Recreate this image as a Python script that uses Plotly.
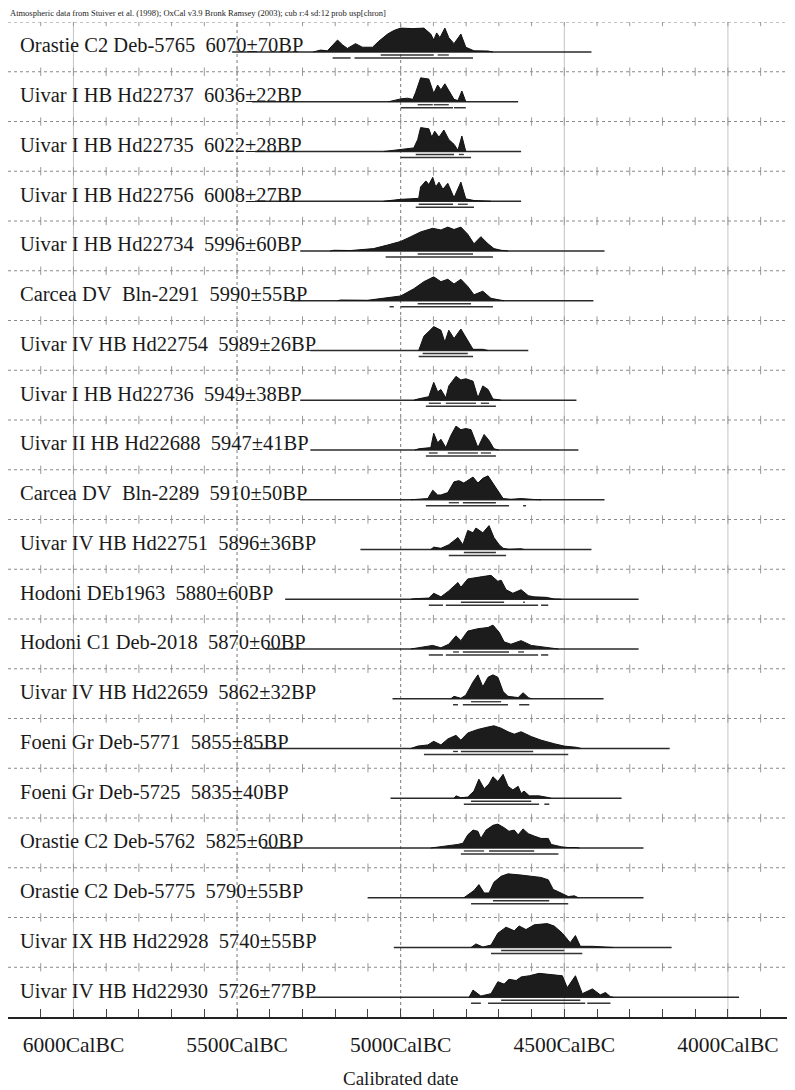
import plotly.graph_objects as go

# ---------------- data ----------------
labels = [
    "Orastie C2 Deb-5765  6070±70BP",
    "Uivar I HB Hd22737  6036±22BP",
    "Uivar I HB Hd22735  6022±28BP",
    "Uivar I HB Hd22756  6008±27BP",
    "Uivar I HB Hd22734  5996±60BP",
    "Carcea DV  Bln-2291  5990±55BP",
    "Uivar IV HB Hd22754  5989±26BP",
    "Uivar I HB Hd22736  5949±38BP",
    "Uivar II HB Hd22688  5947±41BP",
    "Carcea DV  Bln-2289  5910±50BP",
    "Uivar IV HB Hd22751  5896±36BP",
    "Hodoni DEb1963  5880±60BP",
    "Hodoni C1 Deb-2018  5870±60BP",
    "Uivar IV HB Hd22659  5862±32BP",
    "Foeni Gr Deb-5771  5855±85BP",
    "Foeni Gr Deb-5725  5835±40BP",
    "Orastie C2 Deb-5762  5825±60BP",
    "Orastie C2 Deb-5775  5790±55BP",
    "Uivar IX HB Hd22928  5740±55BP",
    "Uivar IV HB Hd22930  5726±77BP",
]

# calibrated probability distributions (year BC, relative probability)
dist_years = [
    [5267, 5245, 5224, 5205, 5193, 5178, 5163, 5138, 5117, 5086, 5067, 5040, 5021, 5000, 4963, 4929, 4908, 4899, 4890, 4880, 4865, 4853, 4837, 4816, 4801, 4776, 4733, 4718],
    [5037, 5000, 4979, 4963, 4954, 4939, 4914, 4902, 4899, 4887, 4877, 4865, 4853, 4837, 4825, 4813, 4801],
    [5052, 5000, 4960, 4948, 4939, 4914, 4905, 4896, 4883, 4868, 4853, 4837, 4825, 4813, 4801],
    [5052, 5000, 4945, 4939, 4923, 4914, 4902, 4893, 4883, 4871, 4856, 4837, 4816, 4801, 4776, 4733, 4724],
    [5215, 5205, 5153, 5083, 5040, 5000, 4969, 4939, 4902, 4877, 4856, 4837, 4816, 4795, 4776, 4755, 4733, 4715, 4693, 4672],
    [5193, 5184, 5101, 5061, 5031, 5000, 4960, 4929, 4899, 4877, 4856, 4837, 4816, 4795, 4776, 4749, 4724, 4693, 4684],
    [4945, 4929, 4914, 4899, 4877, 4865, 4853, 4837, 4816, 4795, 4779, 4749, 4733],
    [4960, 4948, 4914, 4899, 4887, 4877, 4862, 4853, 4831, 4816, 4801, 4779, 4764, 4749, 4733, 4718, 4699, 4693],
    [4957, 4945, 4908, 4899, 4887, 4877, 4862, 4847, 4831, 4816, 4801, 4785, 4764, 4745, 4730, 4715, 4700],
    [4969, 4954, 4917, 4902, 4887, 4877, 4856, 4837, 4822, 4807, 4779, 4764, 4749, 4733, 4718, 4703, 4687, 4663, 4632, 4592, 4571],
    [4908, 4899, 4877, 4853, 4825, 4810, 4795, 4779, 4770, 4749, 4730, 4715, 4699, 4687, 4669, 4632, 4623],
    [4969, 4960, 4914, 4899, 4877, 4853, 4825, 4816, 4795, 4776, 4749, 4724, 4703, 4693, 4678, 4657, 4632, 4610, 4592, 4555, 4531, 4509],
    [4969, 4902, 4877, 4853, 4831, 4816, 4795, 4764, 4733, 4718, 4699, 4684, 4663, 4632, 4601, 4571, 4546, 4518],
    [4847, 4837, 4816, 4801, 4779, 4764, 4749, 4733, 4718, 4703, 4687, 4672, 4641, 4626, 4610, 4601],
    [4969, 4948, 4917, 4899, 4877, 4856, 4831, 4816, 4795, 4764, 4733, 4715, 4693, 4672, 4653, 4632, 4601, 4571, 4531, 4500, 4463, 4448],
    [4837, 4831, 4816, 4795, 4776, 4761, 4745, 4730, 4718, 4703, 4687, 4672, 4657, 4641, 4632, 4623, 4607, 4577, 4549, 4540],
    [4908, 4877, 4837, 4825, 4810, 4795, 4779, 4764, 4755, 4739, 4718, 4703, 4684, 4669, 4653, 4641, 4626, 4610, 4592, 4571, 4549, 4540, 4509, 4488, 4463, 4454],
    [4807, 4776, 4761, 4745, 4730, 4715, 4693, 4672, 4632, 4592, 4571, 4549, 4534, 4518, 4503, 4488, 4469, 4457],
    [4785, 4770, 4749, 4724, 4703, 4678, 4653, 4638, 4617, 4592, 4552, 4531, 4506, 4482, 4466, 4451, 4414, 4359, 4350],
    [4791, 4779, 4755, 4724, 4703, 4684, 4669, 4647, 4632, 4607, 4577, 4537, 4506, 4491, 4466, 4445, 4414, 4390, 4374, 4359, 4350],
]
dist_prob = [
    [0.0, 0.08, 0.05, 0.3, 0.5, 0.3, 0.15, 0.35, 0.2, 0.2, 0.45, 0.75, 0.9, 1.0, 0.98, 1.0, 0.75, 0.5, 0.8, 0.6, 1.0, 0.6, 0.35, 0.75, 0.2, 0.05, 0.04, 0.0],
    [0.0, 0.12, 0.15, 0.1, 0.4, 1.0, 0.95, 0.5, 0.35, 0.7, 0.5, 0.75, 0.45, 0.1, 0.05, 0.45, 0.0],
    [0.0, 0.1, 0.15, 0.5, 1.0, 0.95, 0.6, 0.85, 0.6, 0.9, 0.5, 0.3, 0.05, 0.65, 0.0],
    [0.0, 0.08, 0.12, 0.6, 0.85, 0.7, 1.0, 0.6, 0.8, 0.5, 0.75, 0.15, 0.8, 0.1, 0.03, 0.02, 0.0],
    [0.0, 0.03, 0.02, 0.1, 0.25, 0.4, 0.6, 0.8, 0.95, 0.88, 1.0, 0.9, 1.0, 0.7, 0.3, 0.6, 0.3, 0.1, 0.03, 0.0],
    [0.0, 0.03, 0.02, 0.08, 0.15, 0.2, 0.5, 0.8, 1.0, 0.8, 0.9, 0.7, 0.9, 0.6, 0.25, 0.4, 0.1, 0.02, 0.0],
    [0.0, 0.6, 0.8, 1.0, 0.85, 0.35, 0.85, 0.5, 0.9, 0.4, 0.05, 0.05, 0.0],
    [0.0, 0.05, 0.15, 0.75, 0.35, 0.45, 0.1, 0.6, 1.0, 0.85, 0.9, 0.8, 0.1, 0.6, 0.45, 0.05, 0.02, 0.0],
    [0.0, 0.05, 0.1, 0.7, 0.3, 0.45, 0.1, 0.6, 1.0, 0.85, 0.9, 0.85, 0.1, 0.65, 0.4, 0.05, 0.0],
    [0.0, 0.02, 0.05, 0.4, 0.2, 0.2, 0.3, 0.75, 0.8, 0.7, 0.95, 0.7, 0.9, 1.0, 0.7, 0.35, 0.05, 0.02, 0.05, 0.01, 0.0],
    [0.0, 0.1, 0.05, 0.2, 0.5, 0.2, 0.8, 0.7, 0.9, 0.7, 1.0, 0.5, 0.2, 0.05, 0.01, 0.03, 0.0],
    [0.0, 0.02, 0.05, 0.25, 0.1, 0.35, 0.7, 0.5, 0.85, 0.9, 0.95, 1.0, 0.75, 0.8, 0.4, 0.25, 0.4, 0.15, 0.1, 0.08, 0.01, 0.0],
    [0.0, 0.15, 0.05, 0.2, 0.55, 0.35, 0.75, 0.85, 0.9, 1.0, 0.7, 0.3, 0.2, 0.35, 0.15, 0.1, 0.05, 0.0],
    [0.0, 0.1, 0.02, 0.15, 0.7, 1.0, 0.5, 0.9, 1.0, 0.9, 0.3, 0.1, 0.05, 0.25, 0.05, 0.0],
    [0.0, 0.1, 0.15, 0.3, 0.15, 0.4, 0.55, 0.35, 0.65, 0.8, 0.9, 0.95, 0.85, 0.7, 0.6, 0.7, 0.5, 0.35, 0.2, 0.1, 0.05, 0.0],
    [0.0, 0.1, 0.02, 0.05, 0.3, 0.8, 0.4, 0.6, 0.9, 0.7, 1.0, 0.5, 0.35, 0.5, 0.2, 0.3, 0.1, 0.1, 0.03, 0.0],
    [0.0, 0.05, 0.1, 0.15, 0.2, 0.55, 0.75, 0.7, 0.4, 0.75, 0.95, 1.0, 0.85, 0.7, 0.75, 0.55, 0.8, 0.6, 0.5, 0.4, 0.4, 0.15, 0.05, 0.02, 0.02, 0.0],
    [0.0, 0.3, 0.55, 0.2, 0.2, 0.65, 0.9, 1.0, 0.95, 0.9, 0.85, 0.75, 0.35, 0.25, 0.15, 0.05, 0.08, 0.0],
    [0.0, 0.15, 0.02, 0.1, 0.6, 0.85, 0.7, 0.9, 0.75, 0.95, 1.0, 0.9, 0.6, 0.2, 0.5, 0.05, 0.05, 0.01, 0.0],
    [0.0, 0.3, 0.05, 0.15, 0.65, 0.55, 0.75, 0.7, 0.85, 0.9, 1.0, 0.95, 0.9, 0.4, 0.9, 0.15, 0.35, 0.1, 0.2, 0.02, 0.0],
]

# 68.2% (1 sigma) and 95.4% (2 sigma) ranges, [from, to] in years BC
sigma1 = [
    [[5061, 4899], [4887, 4853]],
    [[4948, 4902], [4899, 4853]],
    [[4954, 4837], [4822, 4807]],
    [[4945, 4840], [4825, 4795]],
    [[4948, 4779]],
    [[4948, 4785]],
    [[4933, 4795]],
    [[4914, 4877], [4862, 4770], [4755, 4730]],
    [[4914, 4887], [4856, 4764], [4755, 4724]],
    [[4853, 4822], [4810, 4709]],
    [[4807, 4709]],
    [[4816, 4684], [4626, 4620]],
    [[4840, 4822], [4810, 4669], [4641, 4623]],
    [[4785, 4693]],
    [[4840, 4825], [4816, 4595]],
    [[4785, 4601]],
    [[4807, 4745], [4730, 4592]],
    [[4718, 4546]],
    [[4693, 4500]],
    [[4693, 4451]],
]
sigma2 = [
    [[5208, 5153], [5141, 4779]],
    [[5000, 4840], [4837, 4801]],
    [[5000, 4785]],
    [[4954, 4776]],
    [[5046, 4718]],
    [[5034, 5021], [5000, 4718]],
    [[4945, 4779]],
    [[4923, 4709]],
    [[4923, 4709]],
    [[4923, 4669], [4626, 4617]],
    [[4853, 4678]],
    [[4914, 4871], [4862, 4580], [4571, 4549]],
    [[4914, 4871], [4862, 4580], [4571, 4549]],
    [[4840, 4825], [4810, 4672], [4638, 4607]],
    [[4929, 4488]],
    [[4807, 4577], [4561, 4546]],
    [[4816, 4518]],
    [[4785, 4488]],
    [[4724, 4445]],
    [[4785, 4755], [4733, 4436], [4430, 4359]],
]

# extent of the horizontal base line of each row (years BC)
base_from = [5515, 5454, 5445, 5445, 5307, 5337, 5276, 5307, 5276, 5307, 5123, 5353, 5414, 5025, 5460, 5031, 5423, 5101, 5021, 5276]
base_to = [4417, 4641, 4632, 4632, 4377, 4411, 4610, 4463, 4457, 4377, 4417, 4273, 4273, 4380, 4178, 4325, 4258, 4258, 4172, 3966]

tick_years = [6000, 5500, 5000, 4500, 4000]
tick_text = ["6000CalBC", "5500CalBC", "5000CalBC", "4500CalBC", "4000CalBC"]
caption = ("Atmospheric data from Stuiver et al. (1998); OxCal v3.9 Bronk Ramsey (2003); "
           "cub r:4 sd:12 prob usp[chron]")
x_title = "Calibrated date"

# ---------------- figure ----------------
SERIF = "Liberation Serif, Times New Roman, serif"
X_LEFT, X_RIGHT = 6200, 3795
N = len(labels)
BASE_OFF = 0.603      # baseline position inside a row (row units)
PEAK = 0.48           # height of the highest probability
S1_OFF = 0.06
S2_OFF = 0.12

fig = go.Figure()

# row separators with small 100-year ticks
sep_x, sep_y = [], []
for i in range(N):
    for yr in range(6100, 3700, -100):
        sep_x.append(yr)
        sep_y.append(i)
fig.add_trace(go.Scatter(x=sep_x, y=sep_y, mode="markers", hoverinfo="skip",
                         marker=dict(symbol="line-ns", size=6,
                                     line=dict(width=1, color="#9a9a9a")),
                         showlegend=False))

shapes = []
for i in range(N):
    shapes.append(dict(type="line", xref="paper", yref="y", x0=0, x1=1, y0=i, y1=i,
                       line=dict(color="#8a8a8a", width=1, dash="dot")))
for yr in tick_years:
    dotted = yr in (5500, 5000)
    shapes.append(dict(type="line", xref="x", yref="paper", x0=yr, x1=yr, y0=0, y1=1,
                       line=dict(color="#7a7a7a" if dotted else "#c4c4c4", width=1,
                                 dash="dot" if dotted else "solid"),
                       layer="below"))

# base lines
bx, by = [], []
for i in range(N):
    b = i + BASE_OFF
    bx += [base_from[i], base_to[i], None]
    by += [b, b, None]
fig.add_trace(go.Scatter(x=bx, y=by, mode="lines", hoverinfo="skip",
                         line=dict(color="#2a2a2a", width=1.6), showlegend=False))

# distributions
for i in range(N):
    b = i + BASE_OFF
    xs = [dist_years[i][0]] + list(dist_years[i]) + [dist_years[i][-1]]
    ys = [b] + [b - p * PEAK for p in dist_prob[i]] + [b]
    fig.add_trace(go.Scatter(x=xs, y=ys, mode="lines", fill="toself",
                             fillcolor="#1c1c1c", line=dict(color="#111111", width=1),
                             hoverinfo="skip", showlegend=False))

# range bars
for ranges, off, w in ((sigma1, S1_OFF, 1.3), (sigma2, S2_OFF, 1.5)):
    rx, ry = [], []
    for i in range(N):
        y = i + BASE_OFF + off
        for a, c in ranges[i]:
            rx += [a, c, None]
            ry += [y, y, None]
    fig.add_trace(go.Scatter(x=rx, y=ry, mode="lines", hoverinfo="skip",
                             line=dict(color="#333333", width=w), showlegend=False))

annotations = []
for i, lab in enumerate(labels):
    annotations.append(dict(x=6170, y=i + 0.47, xref="x", yref="y", xanchor="left",
                            yanchor="middle", showarrow=False,
                            text=lab.replace("  ", "\u00a0\u00a0"),
                            font=dict(family=SERIF, size=20.5, color="#1a1a1a")))
annotations.append(dict(x=0, y=1, xref="paper", yref="paper", xanchor="left",
                        yanchor="middle", yshift=9, showarrow=False,
                        text=caption, font=dict(family=SERIF, size=8.5, color="#222")))
annotations.append(dict(x=5000, y=0, xref="x", yref="paper", xanchor="center",
                        yanchor="middle", yshift=-61, showarrow=False, text=x_title,
                        font=dict(family=SERIF, size=19, color="#1a1a1a")))

# the page body adds an 8px offset, so margins are set to compensate
fig.update_layout(
    width=795, height=1090,
    margin=dict(l=0, r=8, t=14, b=81, autoexpand=False),
    paper_bgcolor="white", plot_bgcolor="white",
    shapes=shapes, annotations=annotations, showlegend=False,
    xaxis=dict(range=[X_LEFT, X_RIGHT], showgrid=False, zeroline=False,
               showline=True, linecolor="#222", linewidth=1.5,
               ticks="inside", ticklen=8, tickcolor="#444", tickwidth=1,
               tickvals=tick_years, ticktext=tick_text, ticklabelstandoff=7,
               tickfont=dict(family=SERIF, size=21.5, color="#1a1a1a"),
               minor=dict(dtick=100, tick0=0, ticks="inside", ticklen=8,
                          tickcolor="#444", tickwidth=1)),
    yaxis=dict(range=[N, 0], showgrid=False, zeroline=False, showticklabels=False,
               showline=True, linecolor="#333", linewidth=1.5, ticks=""),
)

fig.write_html("out.html")
